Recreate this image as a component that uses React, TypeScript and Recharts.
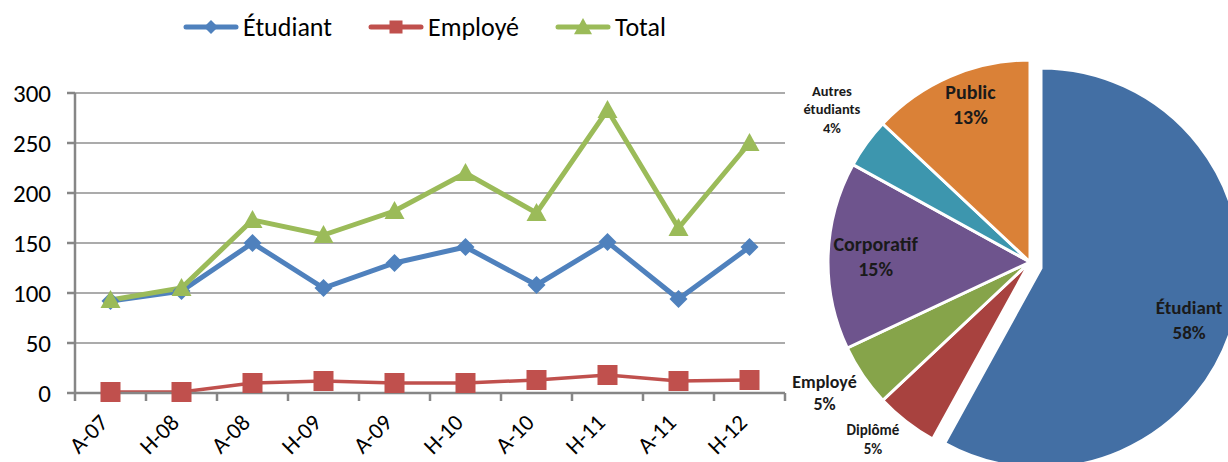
import { CartesianGrid, Cell, Line, LineChart, Pie, PieChart, XAxis, YAxis } from 'recharts'

const categories = ['A-07', 'H-08', 'A-08', 'H-09', 'A-09', 'H-10', 'A-10', 'H-11', 'A-11', 'H-12']
const etudiant = [92, 102, 150, 105, 130, 146, 108, 151, 94, 146]
const employe = [1, 1, 10, 12, 10, 10, 13, 18, 12, 13]
const total = [93, 105, 173, 158, 182, 220, 180, 283, 165, 250]
const yTicks = [0, 50, 100, 150, 200, 250, 300]

const pieNames = ['Étudiant', 'Diplômé', 'Employé', 'Corporatif', 'Autres étudiants', 'Public']
const pieShares = [58, 5, 5, 15, 4, 13]
const pieColors = ['#436FA4', '#A8423F', '#86A44A', '#6E548D', '#3D96AE', '#DA8137']

const FONT = 'Calibri, Carlito, Lato, sans-serif'
const BLUE = '#4F81BD'
const RED = '#C0504D'
const GREEN = '#9BBB59'
const AXIS = '#868686'

const lineData = categories.map((c, i) => ({ name: c, etudiant: etudiant[i], employe: employe[i], total: total[i] }))
const pieData = pieNames.map((n, i) => ({ name: n, value: pieShares[i] }))

function Diamond({ cx, cy, r = 9, fill }: any) {
  if (cx == null || cy == null) return null
  return <polygon points={`${cx},${cy - r} ${cx + r},${cy} ${cx},${cy + r} ${cx - r},${cy}`} fill={fill} />
}
function Square({ cx, cy, r = 10, fill }: any) {
  if (cx == null || cy == null) return null
  return <rect x={cx - r} y={cy - r} width={r * 2} height={r * 2} fill={fill} />
}
function Triangle({ cx, cy, r = 10, fill }: any) {
  if (cx == null || cy == null) return null
  return <polygon points={`${cx},${cy - r} ${cx + r},${cy + r * 0.8} ${cx - r},${cy + r * 0.8}`} fill={fill} />
}

function XTick(props: any) {
  const { x, y, payload, index } = props
  const half = payload?.offset || 35.5
  const ax = x - 1
  const ay = y + 31
  return (
    <g>
      <line x1={x - half} x2={x - half} y1={y} y2={y + 8} stroke={AXIS} strokeWidth={2.5} />
      {index === categories.length - 1 && (
        <line x1={x + half} x2={x + half} y1={y} y2={y + 8} stroke={AXIS} strokeWidth={2.5} />
      )}
      <text x={ax} y={ay} transform={`rotate(-45 ${ax} ${ay})`} textAnchor="end" fontSize={23} fontFamily={FONT} fill="#000">
        {payload.value}
      </text>
    </g>
  )
}

const legendItems = [
  { label: 'Étudiant', color: BLUE, Mark: Diamond, r: 7 },
  { label: 'Employé', color: RED, Mark: Square, r: 6.5 },
  { label: 'Total', color: GREEN, Mark: Triangle, r: 9 },
]

function LegendRow() {
  return (
    <div style={{ position: 'absolute', left: 183, top: 11, display: 'flex', alignItems: 'center', gap: 36, fontFamily: FONT, fontSize: 26, lineHeight: '32px' }}>
      {legendItems.map(({ label, color, Mark, r }) => (
        <div key={label} style={{ display: 'flex', alignItems: 'center' }}>
          <svg width={56} height={22}>
            <line x1={3} x2={53} y1={11} y2={11} stroke={color} strokeWidth={5} strokeLinecap="round" />
            <Mark cx={28} cy={11} r={r} fill={color} />
          </svg>
          <span style={{ marginLeft: 4 }}>{label}</span>
        </div>
      ))}
    </div>
  )
}

// label look per slice: font size, line gap, radius factor, nudges
const labelStyle: Record<string, { size: number; gap: number; f: number; dx: number; dy: number }> = {
  'Étudiant': { size: 19, gap: 25, f: 0.78, dx: -3, dy: 13 },
  'Public': { size: 20, gap: 25, f: 0.78, dx: 3, dy: -12 },
  'Corporatif': { size: 20, gap: 25, f: 0.75, dx: -3, dy: 0 },
  'Employé': { size: 18, gap: 22, f: 1.17, dx: -10, dy: -2 },
  'Diplômé': { size: 15, gap: 19, f: 1.18, dx: -11, dy: -11 },
  'Autres étudiants': { size: 14.5, gap: 18.5, f: 1.2, dx: -2, dy: -10 },
}

const RAD = Math.PI / 180
function pieLabel(only: 'main' | 'rest') {
  return (props: any) => {
    const { cx, cy, midAngle, outerRadius, percent, name } = props
    const isMain = name === pieNames[0]
    if ((only === 'main') !== isMain) return null
    const st = labelStyle[name] ?? { size: 14, gap: 19, f: 1.18, dx: 0, dy: 0 }
    const r = outerRadius * st.f
    const x = cx + r * Math.cos(-midAngle * RAD) + st.dx
    const y = cy + r * Math.sin(-midAngle * RAD) + st.dy
    const lines = [...String(name).split(' '), `${Math.round(percent * 100)}%`]
    const top = y - ((lines.length - 1) * st.gap) / 2 + st.size * 0.33
    return (
      <text x={x} y={top} textAnchor="middle" fontFamily={FONT} fontWeight="bold" fontSize={st.size} fill="#1a1a1a">
        {lines.map((l, i) => (
          <tspan key={i} x={x} y={top + i * st.gap}>
            {l}
          </tspan>
        ))}
      </text>
    )
  }
}

// the pulled-out Étudiant slice sits a little right and down
const PIE_CX = 235
const PIE_CY = 257
const EX_DX = 11
const EX_DY = 6

export default function App() {
  return (
    <div style={{ position: 'relative', width: 1228, height: 462, background: '#fff', overflow: 'hidden' }}>
      <style>{'body{margin:0}'}</style>
      <LegendRow />
      <div style={{ position: 'absolute', left: 0, top: 0 }}>
        <LineChart width={800} height={462} data={lineData} margin={{ top: 93, right: 15, bottom: 0, left: 0 }}>
          <CartesianGrid vertical={false} stroke="#8f8f8f" strokeWidth={1.5} />
          <XAxis
            dataKey="name"
            scale="band"
            height={69}
            tick={<XTick />}
            tickLine={false}
            tickSize={0}
            tickMargin={0}
            interval={0}
            axisLine={{ stroke: AXIS, strokeWidth: 2.5 }}
          />
          <YAxis
            domain={[0, 300]}
            ticks={yTicks}
            width={75}
            tickSize={8}
            tickMargin={16}
            tickLine={{ stroke: AXIS, strokeWidth: 2.5 }}
            axisLine={{ stroke: AXIS, strokeWidth: 2.5 }}
            tick={{ fontSize: 25, fontFamily: FONT, fill: '#000' }}
          />
          <Line dataKey="etudiant" stroke={BLUE} strokeWidth={5} dot={<Diamond r={9} fill={BLUE} />} isAnimationActive={false} />
          <Line dataKey="employe" stroke={RED} strokeWidth={3.5} dot={<Square r={10} fill={RED} />} isAnimationActive={false} />
          <Line dataKey="total" stroke={GREEN} strokeWidth={5} dot={<Triangle r={10} fill={GREEN} />} isAnimationActive={false} />
        </LineChart>
      </div>
      <div style={{ position: 'absolute', left: 790, top: 0 }}>
        <PieChart width={438} height={462}>
          <Pie
            data={pieData}
            dataKey="value"
            nameKey="name"
            cx={PIE_CX}
            cy={PIE_CY}
            outerRadius={202}
            startAngle={90}
            endAngle={-270}
            label={pieLabel('rest')}
            labelLine={false}
            isAnimationActive={false}
          >
            {pieData.map((d, i) => (
              <Cell key={d.name} fill={i === 0 ? 'transparent' : pieColors[i]} stroke={i === 0 ? 'none' : '#fff'} strokeWidth={3} />
            ))}
          </Pie>
          <Pie
            data={pieData}
            dataKey="value"
            nameKey="name"
            cx={PIE_CX + EX_DX}
            cy={PIE_CY + EX_DY}
            outerRadius={200}
            startAngle={90}
            endAngle={-270}
            label={pieLabel('main')}
            labelLine={false}
            isAnimationActive={false}
          >
            {pieData.map((d, i) => (
              <Cell key={d.name} fill={i === 0 ? pieColors[0] : 'transparent'} stroke={i === 0 ? '#fff' : 'none'} strokeWidth={3} />
            ))}
          </Pie>
        </PieChart>
      </div>
    </div>
  )
}
